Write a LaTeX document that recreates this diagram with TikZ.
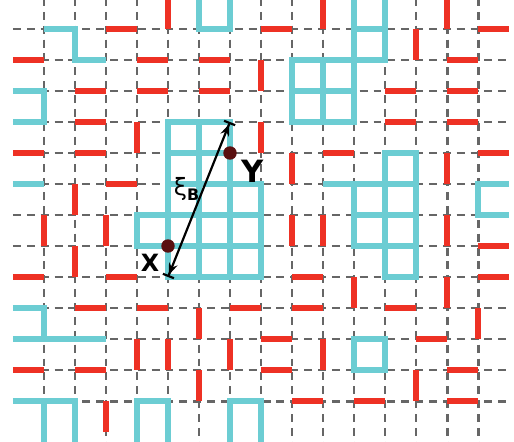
\documentclass[tikz,border=0pt]{standalone}
\usepackage{fontspec}
\setmainfont{DejaVu Sans}
\usetikzlibrary{arrows.meta}
\definecolor{wallred}{HTML}{EE3124}
\definecolor{bondcyan}{HTML}{6CCDD3}
\definecolor{gridgray}{HTML}{666666}
\definecolor{sitedot}{HTML}{5A1010}

\begin{document}
\begin{tikzpicture}[x=0.55cm, y=-0.55cm,
    lattice/.style={gridgray, line width=1.5pt, dash pattern=on 4pt off 3pt},
    wall/.style={wallred, line width=3.1pt},
    bond/.style={bondcyan, line width=3.2pt, line join=miter},
    site/.style={circle, fill=sitedot, inner sep=0pt, minimum size=6.8pt},
    lbl/.style={inner sep=0pt, font=\bfseries},
    dist/.style={{Bar[width=6pt]Stealth[length=6pt,width=4.5pt]}-{Stealth[length=6pt,width=4.5pt]Bar[width=6pt]},
                 line width=1.1pt, black}
  ]
    \useasboundingbox (-1.419,-0.935) rectangle (15.161,13.290);
    \clip (-1.419,-0.935) rectangle (15.161,13.290);

    \foreach \i in {0,...,14} \draw[lattice] (\i,-1) -- (\i,13.5);
    \foreach \j in {0,...,12} \draw[lattice] (-1,\j) -- (15,\j);

    % red edges
    \foreach \i/\j in {2/0,7/0,14/0, -1/1,3/1,5/1,13/1, 1/2,3/2,5/2,11/2,13/2,
                       1/3,11/3,13/3, -1/4,1/4,9/4,14/4, 2/5, 14/7,
                       -1/8,2/8,8/8,14/8, 1/9,3/9,6/9,8/9,11/9, 7/10,12/10,
                       -1/11,1/11,7/11,13/11, 8/12,10/12,13/12}
      \draw[wall] (\i,\j) -- ++(1,0);
    \foreach \i/\j in {4/-1,9/-1,13/-1, 12/0, 7/1, 3/3,7/3, 8/4,13/4, 1/5,
                       0/6,2/6,8/6,9/6,13/6, 1/7, 10/8,13/8, 5/9,14/9,
                       3/10,4/10,6/10,9/10, 5/11,12/11, 2/12}
      \draw[wall] (\i,\j) -- ++(0,1);

    % cyan clusters
    \draw[bond] (0,0) -- (1,0) -- (1,1) -- (2,1);
    \draw[bond] (5,-1) -- (5,0) -- (6,0) -- (6,-1);
    \draw[bond] (-1,2) -- (0,2) -- (0,3) -- (-1,3);
    \draw[bond] (-1,5) -- (0,5);
    \draw[bond] (4,3) -- (6,3) -- (6,5) -- (7,5) -- (7,8) -- (4,8) -- cycle
                (5,3) -- (5,8) (6,5) -- (6,8) (4,4) -- (6,4) (4,5) -- (6,5)
                (7,6) -- (3,6) -- (3,7) -- (7,7);
    \draw[bond] (11,-1) -- (11,1) -- (8,1) -- (8,3) -- (10,3) -- (10,-1)
                (10,0) -- (11,0) (9,1) -- (9,3) (8,2) -- (10,2);
    \draw[bond] (11,4) -- (12,4) -- (12,8) -- (11,8) -- cycle
                (9,5) -- (12,5) (12,7) -- (10,7) -- (10,5) (10,6) -- (12,6);
    \draw[bond] (15,5) -- (14,5) -- (14,6) -- (15,6);
    \draw[bond] (-1,9) -- (0,9) -- (0,10) (-1,10) -- (2,10);
    \draw[bond] (10,10) rectangle (11,11);
    \draw[bond] (-1,12) -- (1,12) -- (1,13.5) (0,12) -- (0,13.5);
    \draw[bond] (3,13.5) -- (3,12) -- (4,12) -- (4,13.5);
    \draw[bond] (6,13.5) -- (6,12) -- (7,12) -- (7,13.5);

    \node[site] (ptx) at (4,7) {};
    \node[site] (pty) at (6,4) {};
    \node[lbl, font=\bfseries\fontsize{12}{12}\selectfont] (labx) at (3.42,7.55) {X};
    \node[lbl, font=\bfseries\fontsize{15.5}{15.5}\selectfont] (laby) at (6.73,4.58) {Y};

    \coordinate (tail) at (4,8);
    \coordinate (head) at (6,3);
    \draw[dist] (tail) -- (head);
    \node[inner sep=0pt] (xib) at (4.6,5.15)
      {{\fontsize{12}{12}\selectfont ξ}\raisebox{-2.6pt}{\bfseries\fontsize{8}{8}\selectfont B}};
\end{tikzpicture}
\end{document}
